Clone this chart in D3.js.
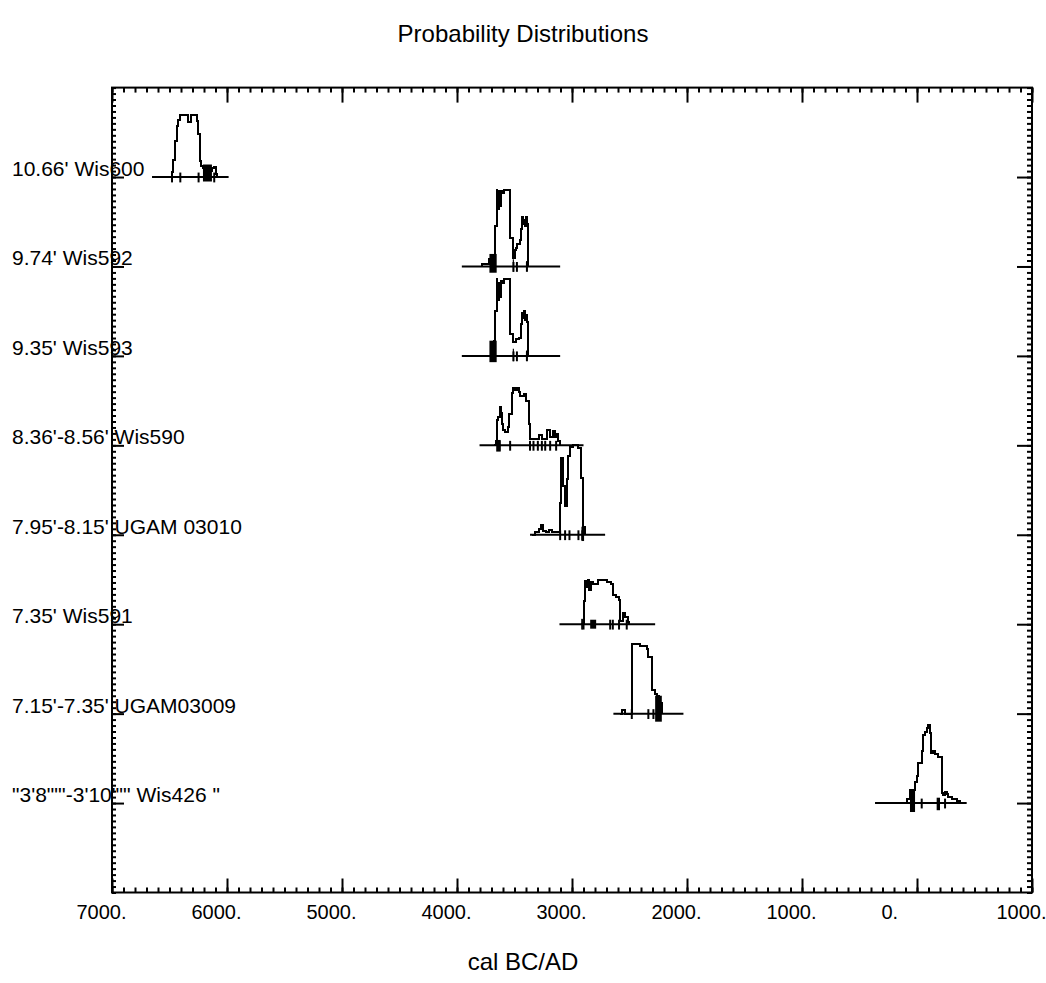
<!DOCTYPE html>
<html>
<head>
<meta charset="utf-8">
<script src="https://cdn.jsdelivr.net/npm/d3@7/dist/d3.min.js"></script>
<style>
  body { margin: 0; background: #fff; }
  text { font-family: "Liberation Sans", Arial, sans-serif; fill: #000; }
</style>
</head>
<body>
<svg id="chart" width="1046" height="983"></svg>
<script>
// sample labels, top to bottom, and the row each sits on
const sampleLabels = [
    "10.66' Wis600",
    "9.74' Wis592",
    "9.35' Wis593",
    "8.36'-8.56' Wis590",
    "7.95'-8.15' UGAM 03010",
    "7.35' Wis591",
    "7.15'-7.35' UGAM03009",
    "\"3'8\"\"'-3'10\"\"' Wis426 \""
];
const sampleRows = [8, 7, 6, 5, 4, 3, 2, 1];

// x tick values (negative = BC)
const xMajorTicks = [-7000, -6000, -5000, -4000, -3000, -2000, -1000, 0, 1000];

// probability curves: [year, height in row units], stepped
const wis600 = [[-6508,0],[-6480,0.06],[-6468,0.19],[-6452,0.40],[-6438,0.57],[-6424,0.64],[-6406,0.69],[-6339,0.61],[-6315,0.69],[-6262,0.63],[-6250,0.48],[-6238,0.18],[-6222,0.12],[-6205,0.10],[-6150,0.07],[-6131,0.10],[-6111,0.11],[-6100,0.03],[-6088,0]];
const wis592 = [[-3790,0],[-3784,0.03],[-3720,0.08],[-3700,0.13],[-3668,0.45],[-3655,0.86],[-3648,0.72],[-3643,0.84],[-3638,0.64],[-3632,0.80],[-3626,0.68],[-3620,0.84],[-3600,0.82],[-3594,0.86],[-3538,0.32],[-3512,0.10],[-3500,0.18],[-3490,0.21],[-3478,0.25],[-3448,0.30],[-3440,0.42],[-3432,0.55],[-3426,0.47],[-3418,0.52],[-3410,0.45],[-3402,0.55],[-3394,0.48],[-3386,0]];
const wis593 = [[-3720,0],[-3700,0.12],[-3680,0.17],[-3668,0.50],[-3655,0.86],[-3648,0.70],[-3643,0.82],[-3638,0.62],[-3632,0.78],[-3626,0.66],[-3620,0.84],[-3600,0.82],[-3594,0.86],[-3538,0.24],[-3512,0.16],[-3490,0.19],[-3458,0.20],[-3445,0.36],[-3436,0.48],[-3426,0.42],[-3418,0.50],[-3410,0.40],[-3402,0.46],[-3394,0.38],[-3386,0]];
const wis590 = [[-3680,0],[-3660,0.05],[-3653,0.28],[-3640,0.32],[-3628,0.43],[-3618,0.36],[-3608,0.24],[-3596,0.17],[-3584,0.15],[-3560,0.20],[-3545,0.35],[-3523,0.58],[-3512,0.64],[-3495,0.62],[-3480,0.64],[-3458,0.60],[-3448,0.55],[-3420,0.57],[-3400,0.50],[-3378,0.24],[-3368,0.07],[-3291,0.11],[-3262,0.07],[-3219,0.17],[-3190,0.09],[-3161,0.16],[-3147,0.09],[-3132,0.13],[-3118,0.05],[-3103,0]];
const ugam03010 = [[-3349,0],[-3320,0.03],[-3291,0.07],[-3271,0.11],[-3255,0.04],[-3225,0.03],[-3200,0.05],[-3170,0.03],[-3103,0.35],[-3094,0.86],[-3078,0.55],[-3065,0.32],[-3042,0.62],[-3034,0.88],[-3018,0.98],[-2990,1.0],[-2945,0.97],[-2918,0.63],[-2902,0.09],[-2885,0]];
const wis591 = [[-2920,0],[-2900,0.26],[-2886,0.48],[-2875,0.42],[-2862,0.49],[-2848,0.38],[-2838,0.47],[-2820,0.45],[-2790,0.45],[-2770,0.49],[-2735,0.49],[-2700,0.47],[-2665,0.45],[-2645,0.33],[-2620,0.30],[-2595,0.27],[-2583,0.04],[-2560,0.13],[-2535,0.08],[-2515,0.03],[-2505,0]];
const ugam03009 = [[-2580,0],[-2567,0.04],[-2540,0],[-2480,0.78],[-2408,0.76],[-2349,0.72],[-2336,0.63],[-2306,0.26],[-2277,0.22],[-2262,0.20],[-2240,0.12],[-2219,0]];
const wis426 = [[-104,0],[-90,0.04],[-61,0.15],[-17,0.24],[0,0.30],[12,0.45],[41,0.58],[55,0.76],[70,0.80],[85,0.84],[99,0.875],[113,0.78],[121,0.56],[142,0.58],[157,0.55],[186,0.52],[200,0.52],[215,0.11],[229,0.09],[244,0.12],[258,0.10],[273,0.07],[302,0.05],[345,0.02],[374,0]];
const curves = [wis600, wis592, wis593, wis590, ugam03010, wis591, ugam03009, wis426];

// horizontal base line extent of each sample
const baseExtents = [[-6652,-5986],[-3958,-3103],[-3958,-3103],[-3804,-2900],[-3365,-2712],[-3109,-2277],[-2640,-2031],[-365,432]];

// short range marks crossing the base line
const rangeMarks = [
    [-6478,-6406,-6247,-6111],
    [-3688,-3509,-3479,-3392],
    [-3688,-3509,-3479,-3392],
    [-3631,-3538,-3365,-3335,-3297,-3262,-3233,-3190,-3138],
    [-3103,-3060,-3022,-2944,-2910],
    [-2900,-2668,-2645,-2591,-2524],
    [-2480,-2336,-2292],
    [-32,41,244]
];

// dense (filled) spots: [from, to, low, high]
const denseSpots = [
    [[-6209,-6131,-0.05,0.14]],
    [[-3718,-3655,-0.07,0.14],[-3515,-3505,-0.06,0.08],[-3400,-3388,-0.05,0.06]],
    [[-3718,-3655,-0.07,0.17],[-3515,-3505,-0.06,0.08],[-3400,-3388,-0.05,0.06]],
    [[-3659,-3620,-0.07,0.06]],
    [[-2918,-2895,-0.07,0.09]],
    [[-2920,-2905,-0.06,0.06],[-2842,-2790,-0.05,0.05]],
    [[-2277,-2219,-0.09,0.20]],
    [[-61,-17,-0.10,0.15],[171,200,-0.08,0.06]]
];

const svg = d3.select("#chart");
const plotLeft = 112, plotRight = 1032, plotTop = 87.6, plotBottom = 892.5;

const x = d3.scaleLinear().domain([-7000, 1000]).range([plotLeft, plotRight]);
const y = d3.scaleLinear().domain([0, 9]).range([plotBottom, plotTop]);

const xMinor = d3.range(-7000, 1001, 100);
const yMinor = d3.range(0, 9.001, 1 / 15);

// axes with inward ticks on all four sides
function addAxis(axis, tx, ty) {
    const g = svg.append("g").attr("transform", `translate(${tx},${ty})`).call(axis);
    g.select(".domain").remove();
    g.selectAll("line").attr("stroke", "#000").attr("stroke-width", 2);
    return g;
}

addAxis(d3.axisBottom(x).tickValues(xMinor).tickSize(-5).tickFormat(""), 0, plotBottom);
addAxis(d3.axisTop(x).tickValues(xMinor).tickSize(-5).tickFormat(""), 0, plotTop);
addAxis(d3.axisTop(x).tickValues(xMajorTicks).tickSize(-15).tickFormat(""), 0, plotTop);
const xAxis = addAxis(d3.axisBottom(x).tickValues(xMajorTicks).tickSize(-14)
    .tickFormat(d => Math.abs(d) + "."), 0, plotBottom);
xAxis.selectAll("text")
    .attr("text-anchor", "start")
    .attr("x", -36)
    .attr("y", 26)
    .attr("dy", 0)
    .attr("fill", "#000")
    .style("font-size", "20px")
    .style("font-family", "'Liberation Sans', Arial, sans-serif");

addAxis(d3.axisLeft(y).tickValues(yMinor).tickSize(-4).tickFormat(""), plotLeft, 0);
addAxis(d3.axisRight(y).tickValues(yMinor).tickSize(-5).tickFormat(""), plotRight, 0);
addAxis(d3.axisLeft(y).tickValues(sampleRows).tickSize(-12).tickFormat(""), plotLeft, 0);
addAxis(d3.axisRight(y).tickValues(sampleRows).tickSize(-15).tickFormat(""), plotRight, 0);

// frame
svg.append("rect")
    .attr("x", plotLeft).attr("y", plotTop)
    .attr("width", plotRight - plotLeft).attr("height", plotBottom - plotTop)
    .attr("fill", "none").attr("stroke", "#000").attr("stroke-width", 2);

// sample labels
svg.selectAll(".sample-label")
    .data(sampleLabels)
    .enter().append("text")
    .attr("class", "sample-label")
    .attr("x", 12)
    .attr("y", (d, i) => y(sampleRows[i]) - 1)
    .style("font-size", "21px")
    .text(d => d);

// distributions
sampleRows.forEach((row, i) => {
    const g = svg.append("g").attr("class", "sample");

    g.append("line")
        .attr("x1", x(baseExtents[i][0])).attr("x2", x(baseExtents[i][1]))
        .attr("y1", y(row)).attr("y2", y(row))
        .attr("stroke", "#000").attr("stroke-width", 2);

    const line = d3.line()
        .x(d => x(d[0]))
        .y(d => y(row + d[1]))
        .curve(d3.curveStepAfter);

    g.append("path")
        .datum(curves[i])
        .attr("d", line)
        .attr("fill", "none")
        .attr("stroke", "#000")
        .attr("stroke-width", 2)
        .attr("shape-rendering", "crispEdges");

    g.selectAll(".mark")
        .data(rangeMarks[i])
        .enter().append("line")
        .attr("class", "mark")
        .attr("x1", d => x(d)).attr("x2", d => x(d))
        .attr("y1", y(row + 0.05)).attr("y2", y(row - 0.06))
        .attr("stroke", "#000").attr("stroke-width", 2);

    g.selectAll(".dense")
        .data(denseSpots[i])
        .enter().append("rect")
        .attr("class", "dense")
        .attr("x", d => x(d[0]))
        .attr("width", d => x(d[1]) - x(d[0]))
        .attr("y", d => y(row + d[3]))
        .attr("height", d => y(row + d[2]) - y(row + d[3]))
        .attr("fill", "#000");
});

// titles
svg.append("text")
    .attr("x", 523).attr("y", 42)
    .attr("text-anchor", "middle")
    .style("font-size", "24px")
    .text("Probability Distributions");

svg.append("text")
    .attr("x", 523).attr("y", 970)
    .attr("text-anchor", "middle")
    .style("font-size", "24px")
    .text("cal BC/AD");
</script>
</body>
</html>
